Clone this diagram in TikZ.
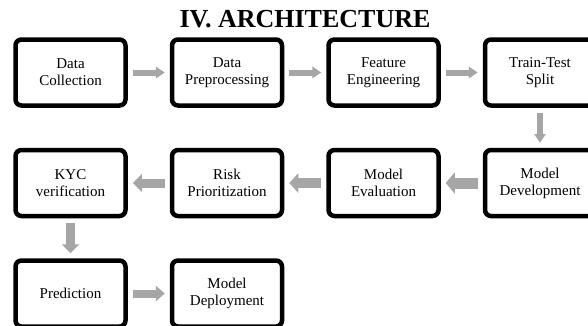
\documentclass[tikz,border=0pt]{standalone}
\usepackage{fontspec}
\setmainfont{Liberation Serif}
\usetikzlibrary{arrows.meta}
\usetikzlibrary{positioning}
\definecolor{flowgray}{RGB}{166,166,166}
\tikzset {
  % pipeline stage
  stage/.style = {
    draw = black,
    line width = 4.5pt,
    rounded corners = 6pt,
    rectangle,
    minimum width = 110pt,
    minimum height = 66pt,
    align = center,
    font = \fontsize{15}{17}\selectfont
  },
  % grey block arrow between stages
  flow/.style = {
    draw = flowgray,
    line width = #1,
    shorten <= 5pt,
    shorten >= 5pt,
    -{Triangle[length=9pt, width=0pt 1.9]}
  },
  heading/.style = {
    font = \fontsize{26}{30}\selectfont\bfseries,
    anchor = base
  },
  node distance = 40pt and 42pt
}

\begin{document}
\begin{tikzpicture}[x=1pt, y=1pt]
    \useasboundingbox (0,0) rectangle (588,-325);
    \clip (0,0) rectangle (588,-325);

    \node[heading] (title) at (305,-27) {IV. ARCHITECTURE};

    \node[stage] (collection) at (70.5,-72.5) {Data\\Collection};
    \node[stage] (preprocessing) [right=of collection] {Data\\Preprocessing};
    \node[stage] (features) [right=of preprocessing] {Feature\\Engineering};
    \node[stage] (split) [right=of features] {Train-Test\\Split};
    \node[stage] (development) [below=of split] {Model\\Development};
    \node[stage] (evaluation) [left=of development] {Model\\Evaluation};
    \node[stage] (risk) [left=of evaluation] {Risk\\Prioritization};
    \node[stage] (kyc) [left=of risk] {KYC\\verification};
    \node[stage] (prediction) [below=of kyc] {Prediction};
    \node[stage] (deployment) [right=of prediction] {Model\\Deployment};

    \draw[flow=6pt] (collection) -- (preprocessing);
    \draw[flow=6pt] (preprocessing) -- (features);
    \draw[flow=6pt] (features) -- (split);
    \draw[flow=6pt] (split) -- (development);
    \draw[flow=11pt] (development) -- (evaluation);
    \draw[flow=10pt] (evaluation) -- (risk);
    \draw[flow=9pt] (risk) -- (kyc);
    \draw[flow=9pt] (kyc) -- (prediction);
    \draw[flow=8pt] (prediction) -- (deployment);
\end{tikzpicture}
\end{document}
